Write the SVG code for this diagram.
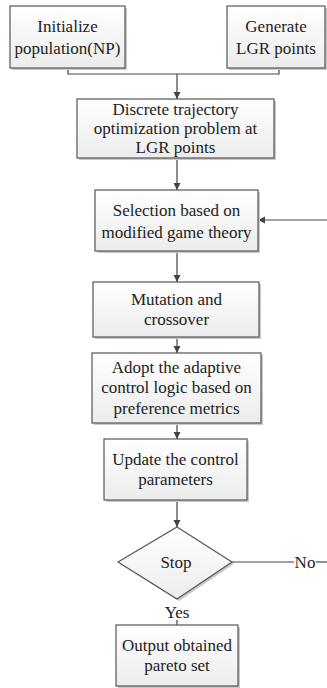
<svg xmlns="http://www.w3.org/2000/svg" width="327" height="688" viewBox="0 0 327 688">
<defs>
<linearGradient id="g" x1="0" y1="0" x2="0" y2="1">
<stop offset="0" stop-color="#ffffff"/>
<stop offset="1" stop-color="#ececec"/>
</linearGradient>
<marker id="arr" markerWidth="8" markerHeight="8" refX="7" refY="4" orient="auto" markerUnits="userSpaceOnUse">
<path d="M0,0.5 L7,4 L0,7.5 Z" fill="#444"/>
</marker>
<style>
.box{fill:url(#g);stroke:#555;stroke-width:1.2}
.sh{fill:#c8c8c8}
.t{font-size:17px;fill:#222;text-anchor:middle}
.ln{stroke:#444;stroke-width:1.2;fill:none}
</style>
</defs>
<rect width="327" height="688" fill="#fff"/>
<g font-family="'Liberation Serif', 'Times New Roman', 'DejaVu Serif', serif">
<g id="connectors">
<path class="ln" d="M68,68 V74 H279 V68"/>
<path class="ln" d="M177,74 V99" marker-end="url(#arr)"/>
<path class="ln" d="M177,158 V190" marker-end="url(#arr)"/>
<path class="ln" d="M327,220 H258" marker-end="url(#arr)"/>
<path class="ln" d="M177,251 V282" marker-end="url(#arr)"/>
<path class="ln" d="M177,337 V353" marker-end="url(#arr)"/>
<path class="ln" d="M177,423 V439" marker-end="url(#arr)"/>
<path class="ln" d="M177,500 V527" marker-end="url(#arr)"/>
<path class="ln" d="M232,562 H294"/>
<path class="ln" d="M316,562 H327"/>
<path class="ln" d="M177,620 V625" stroke-width="0.8"/>
<text class="t" x="305" y="568">No</text>
<text class="t" x="177" y="618">Yes</text>
</g>
<g id="n1">
<rect class="sh" x="12" y="8" width="115" height="62"/>
<rect class="box" x="10" y="6" width="115" height="62"/>
<text class="t" x="67.5" y="32">Initialize</text>
<text class="t" x="67.5" y="54">population(NP)</text>
</g>
<g id="n2">
<rect class="sh" x="229" y="8" width="98" height="62"/>
<rect class="box" x="227" y="6" width="98" height="62"/>
<text class="t" x="276" y="32">Generate</text>
<text class="t" x="276" y="54">LGR points</text>
</g>
<g id="n3">
<rect class="sh" x="79" y="101" width="197" height="59"/>
<rect class="box" x="77" y="99" width="197" height="59"/>
<text class="t" x="175.5" y="115">Discrete trajectory</text>
<text class="t" x="175.5" y="134">optimization problem at</text>
<text class="t" x="175.5" y="153">LGR points</text>
</g>
<g id="n4">
<rect class="sh" x="97" y="192" width="163" height="61"/>
<rect class="box" x="95" y="190" width="163" height="61"/>
<text class="t" x="176.5" y="216">Selection based on</text>
<text class="t" x="176.5" y="238">modified game theory</text>
</g>
<g id="n5">
<rect class="sh" x="95" y="284" width="166" height="55"/>
<rect class="box" x="93" y="282" width="166" height="55"/>
<text class="t" x="176.5" y="305">Mutation and</text>
<text class="t" x="176.5" y="325">crossover</text>
</g>
<g id="n6">
<rect class="sh" x="94" y="355" width="169" height="70"/>
<rect class="box" x="92" y="353" width="169" height="70"/>
<text class="t" x="176.5" y="373">Adopt the adaptive</text>
<text class="t" x="176.5" y="393">control logic based on</text>
<text class="t" x="176.5" y="414">preference metrics</text>
</g>
<g id="n7">
<rect class="sh" x="106" y="441" width="143" height="61"/>
<rect class="box" x="104" y="439" width="143" height="61"/>
<text class="t" x="175.5" y="465">Update the control</text>
<text class="t" x="175.5" y="485">parameters</text>
</g>
<g id="n8">
<path class="sh" d="M179,529 L234,564 L179,601 L120,564 Z"/>
<path class="box" d="M177,527 L232,562 L177,599 L118,562 Z"/>
<text class="t" x="176" y="568">Stop</text>
</g>
<g id="n9">
<rect class="sh" x="118" y="627" width="122" height="61"/>
<rect class="box" x="116" y="625" width="122" height="61"/>
<text class="t" x="177" y="651">Output obtained</text>
<text class="t" x="177" y="671">pareto set</text>
</g>
</g>
</svg>
